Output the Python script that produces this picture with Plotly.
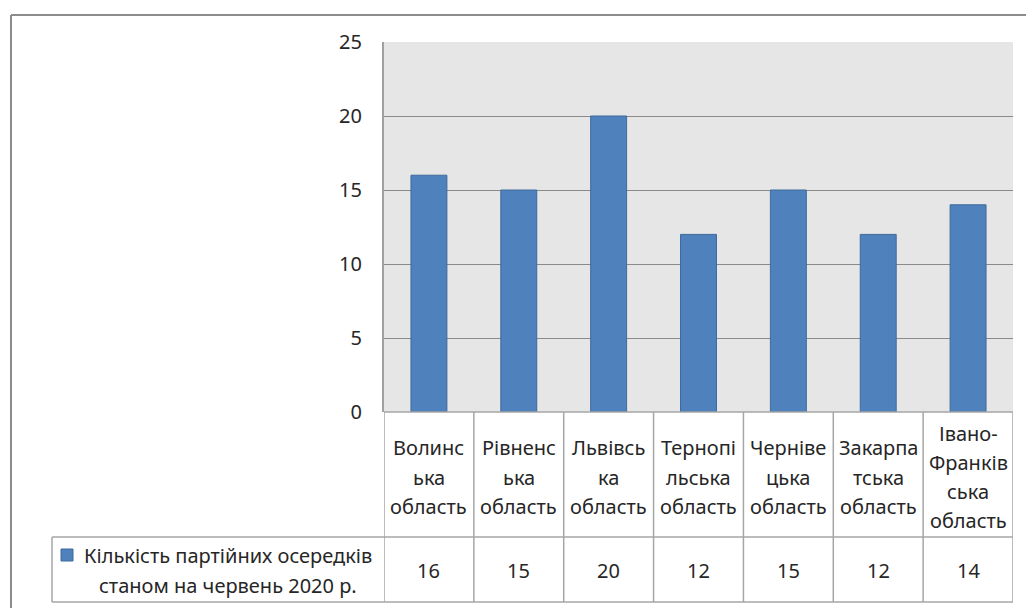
import plotly.graph_objects as go

# ---------------- data ----------------
categories = [
    "Волинська область",
    "Рівненська область",
    "Львівська область",
    "Тернопільська область",
    "Чернівецька область",
    "Закарпатська область",
    "Івано-Франківська область",
]
# wrapped category labels as shown in the data table header
category_lines = [
    ["Волинс", "ька", "область"],
    ["Рівненс", "ька", "область"],
    ["Львівсь", "ка", "область"],
    ["Тернопі", "льська", "область"],
    ["Черніве", "цька", "область"],
    ["Закарпа", "тська", "область"],
    ["Івано-", "Франків", "ська", "область"],
]
values = [16, 15, 20, 12, 15, 12, 14]
series_lines = ["Кількість партійних осередків", "станом на червень 2020 р."]
y_ticks = [0, 5, 10, 15, 20, 25]

# ---------------- layout constants (pixels) ----------------
W, H = 1026, 608
FONT = "Noto Sans, Open Sans, DejaVu Sans, sans-serif"
FS = 20
BAR_COLOR = "#4f81bd"
BAR_EDGE = "#3e6a9c"
TABLE_LINE = "#a6a6a6"

PLOT_L, PLOT_R = 384, 1013
PLOT_T, PLOT_B = 42, 412
HEAD_B = 537
TABLE_B = 602
LEG_L = 52


def px(x):
    return x / W


def py(y):
    return 1 - y / H


fig = go.Figure()
fig.add_trace(
    go.Bar(
        x=categories,
        y=values,
        marker=dict(color=BAR_COLOR, line=dict(color=BAR_EDGE, width=1)),
        name=" ".join(series_lines),
        showlegend=False,
        hoverinfo="x+y",
    )
)

shapes = []
annotations = []

# outer chart border (left and top, continues off-canvas)
shapes.append(dict(type="line", xref="paper", yref="paper",
                   x0=px(11), x1=px(11), y0=py(15), y1=py(H + 20),
                   line=dict(color="#8c8c8c", width=2)))
shapes.append(dict(type="line", xref="paper", yref="paper",
                   x0=px(11), x1=px(W + 20), y0=py(15), y1=py(15),
                   line=dict(color="#8c8c8c", width=2)))

# data-table horizontal lines
shapes.append(dict(type="line", xref="paper", yref="paper",
                   x0=px(PLOT_L), x1=px(PLOT_R), y0=py(PLOT_B), y1=py(PLOT_B),
                   line=dict(color=TABLE_LINE, width=1.5)))
for yy in (HEAD_B, TABLE_B):
    shapes.append(dict(type="line", xref="paper", yref="paper",
                       x0=px(LEG_L), x1=px(PLOT_R), y0=py(yy), y1=py(yy),
                       line=dict(color=TABLE_LINE, width=1.5)))
# data-table vertical lines (at category boundaries)
for k in range(len(categories) + 1):
    shapes.append(dict(type="line", xref="x", yref="paper",
                       x0=k - 0.5, x1=k - 0.5, y0=py(PLOT_B), y1=py(TABLE_B),
                       line=dict(color=TABLE_LINE, width=1.5)))
shapes.append(dict(type="line", xref="paper", yref="paper",
                   x0=px(LEG_L), x1=px(LEG_L), y0=py(HEAD_B), y1=py(TABLE_B),
                   line=dict(color=TABLE_LINE, width=1.5)))

# legend key square
shapes.append(dict(type="rect", xref="paper", yref="paper",
                   x0=px(61), x1=px(73), y0=py(549), y1=py(561),
                   fillcolor=BAR_COLOR, line=dict(color=BAR_EDGE, width=1)))

# header labels
LINE_H = 29.3
HEAD_CENTER = 477
for cat, lines in zip(categories, category_lines):
    n = len(lines)
    for i, t in enumerate(lines):
        yc = HEAD_CENTER + (i - (n - 1) / 2) * LINE_H
        annotations.append(dict(xref="x", yref="paper", x=cat, y=py(yc),
                                text=t, showarrow=False, xanchor="center",
                                yanchor="middle",
                                font=dict(family=FONT, size=FS, color="#262626")))

# value row
VAL_CENTER = 570
for cat, v in zip(categories, values):
    annotations.append(dict(xref="x", yref="paper", x=cat, y=py(VAL_CENTER),
                            text=str(v), showarrow=False, xanchor="center",
                            yanchor="middle",
                            font=dict(family=FONT, size=FS, color="#262626")))

# series name (legend cell)
for i, t in enumerate(series_lines):
    yc = 555 + i * 30
    annotations.append(dict(xref="paper", yref="paper", x=px(228), y=py(yc),
                            text=t, showarrow=False, xanchor="center",
                            yanchor="middle",
                            font=dict(family=FONT, size=FS, color="#262626")))

fig.update_layout(
    template="none",
    width=W,
    height=H,
    autosize=False,
    margin=dict(l=0, r=0, t=0, b=0, pad=0, autoexpand=False),
    paper_bgcolor="white",
    plot_bgcolor="#e6e6e6",
    bargap=0.6,
    shapes=shapes,
    annotations=annotations,
    showlegend=False,
    font=dict(family=FONT, size=FS, color="#262626"),
    xaxis=dict(
        domain=[px(PLOT_L), px(PLOT_R)],
        range=[-0.5, len(categories) - 0.5],
        showticklabels=False,
        showgrid=False,
        zeroline=False,
        showline=False,
        automargin=False,
        fixedrange=True,
    ),
    yaxis=dict(
        domain=[py(PLOT_B), py(PLOT_T)],
        range=[0, 25],
        tickvals=y_ticks,
        ticktext=[str(t) for t in y_ticks],
        showgrid=True,
        gridcolor="#8a8a8a",
        gridwidth=1,
        zeroline=False,
        showline=True,
        linecolor="#a0a0a0",
        linewidth=2,
        mirror=False,
        ticks="",
        ticklabelstandoff=16,
        automargin=False,
        tickfont=dict(family=FONT, size=FS, color="#262626"),
        fixedrange=True,
    ),
)

fig.write_html(
    "out.html",
    config={"displayModeBar": False, "responsive": False},
    post_script="document.body.style.margin='0';document.body.style.overflow='hidden';",
)
